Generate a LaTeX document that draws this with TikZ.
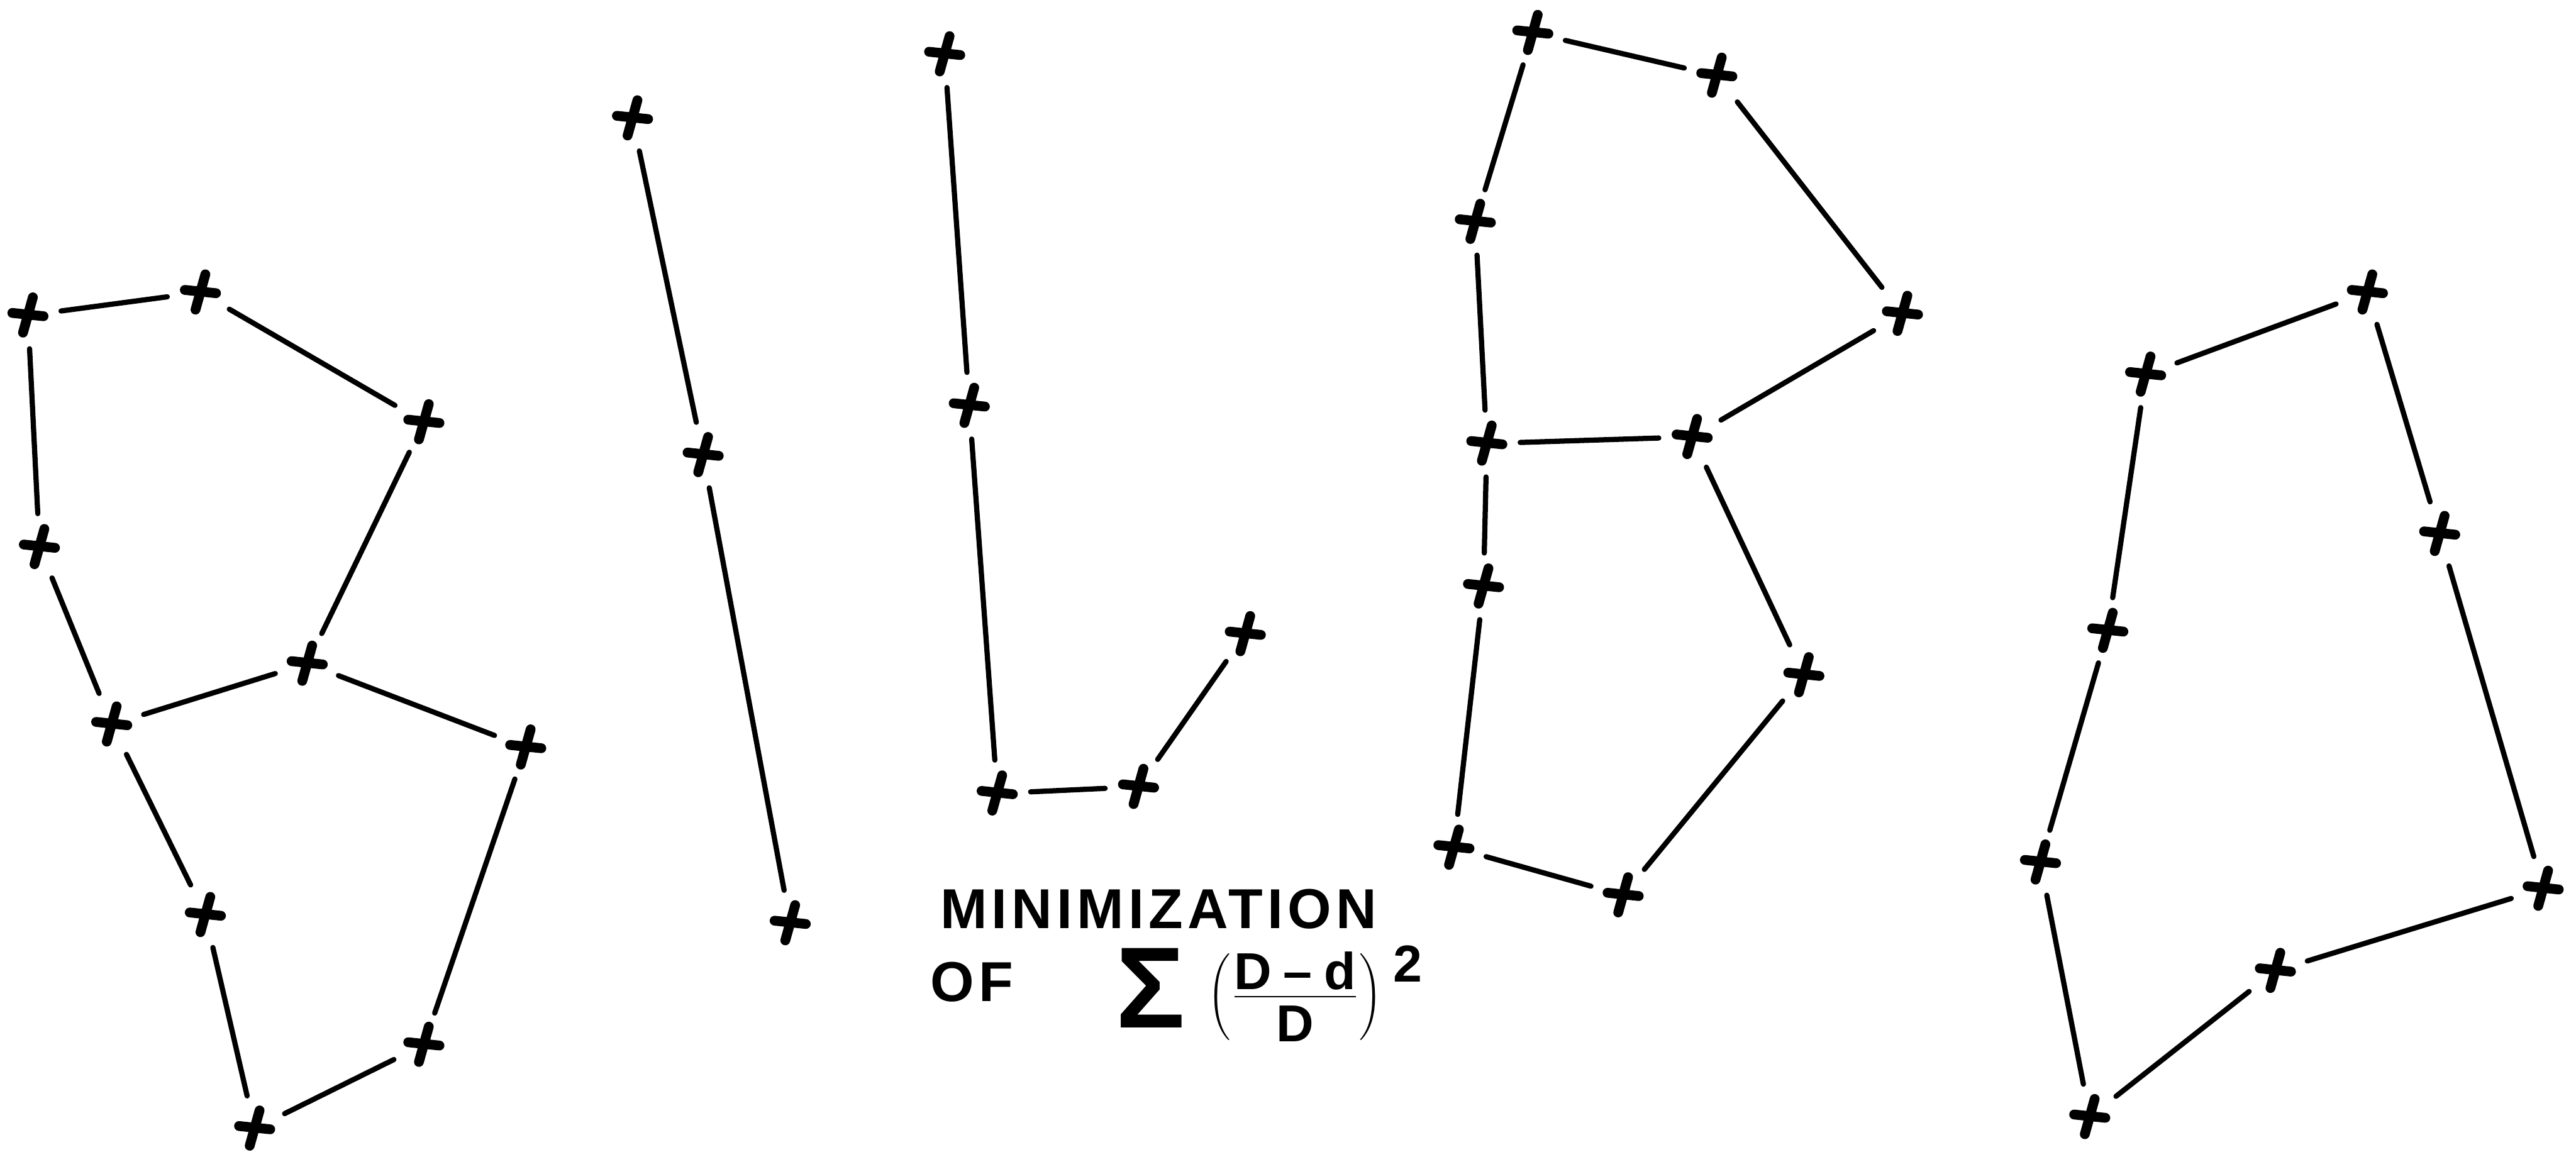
\documentclass[tikz,border=0pt]{standalone}
\usepackage{fontspec}
\setmainfont{Liberation Sans}
\usetikzlibrary{positioning}

\begin{document}
\begin{tikzpicture}[x=0.02cm, y=-0.02cm,
    pt/.style={circle, draw=none, minimum size=0.8cm, inner sep=0pt,
      path picture={\coordinate (c) at (path picture bounding box.center);
        \draw[line width=3.4pt, line cap=round]
          (c) +(-0.19cm,0.03cm) -- +(0.19cm,-0.01cm)
              +(0.06cm,0.22cm) -- +(-0.06cm,-0.21cm);}},
    edge/.style={line width=1.8pt, line cap=round},
    lbl/.style={anchor=west, inner sep=0pt,
      font=\fontsize{19.5}{22}\selectfont\bfseries\addfontfeature{LetterSpace=8}}
  ]
  \useasboundingbox (0,0) rectangle (1568,704);

  % first B
  \node[pt] (b1) at (17,192) {};
  \node[pt] (b2) at (122,178) {};
  \node[pt] (b3) at (258,257) {};
  \node[pt] (b4) at (24,333) {};
  \node[pt] (b5) at (187,404) {};
  \node[pt] (b6) at (68,441) {};
  \node[pt] (b7) at (320,455) {};
  \node[pt] (b8) at (125,557) {};
  \node[pt] (b9) at (258,636) {};
  \node[pt] (b10) at (155,687) {};
  \draw[edge] (b1) -- (b2) (b2) -- (b3) (b3) -- (b5) (b1) -- (b4)
    (b4) -- (b6) (b6) -- (b5) (b5) -- (b7) (b6) -- (b8)
    (b8) -- (b10) (b10) -- (b9) (b9) -- (b7);

  % I
  \node[pt] (i1) at (385,72) {};
  \node[pt] (i2) at (428,277) {};
  \node[pt] (i3) at (481,562) {};
  \draw[edge] (i1) -- (i2) (i2) -- (i3);

  % L
  \node[pt] (l1) at (575,33) {};
  \node[pt] (l2) at (590,247) {};
  \node[pt] (l3) at (607,483) {};
  \node[pt] (l4) at (693,479) {};
  \node[pt] (l5) at (758,386) {};
  \draw[edge] (l1) -- (l2) (l2) -- (l3) (l3) -- (l4) (l4) -- (l5);

  % second B
  \node[pt] (c1) at (933,20) {};
  \node[pt] (c2) at (1045,46) {};
  \node[pt] (c3) at (898,135) {};
  \node[pt] (c4) at (1158,191) {};
  \node[pt] (c5) at (905,270) {};
  \node[pt] (c6) at (1030,266) {};
  \node[pt] (c7) at (903,357) {};
  \node[pt] (c8) at (1098,411) {};
  \node[pt] (c9) at (885,516) {};
  \node[pt] (c10) at (988,545) {};
  \draw[edge] (c1) -- (c2) (c2) -- (c4) (c1) -- (c3) (c3) -- (c5)
    (c5) -- (c6) (c6) -- (c4) (c5) -- (c7) (c6) -- (c8)
    (c7) -- (c9) (c8) -- (c10) (c9) -- (c10);

  % A
  \node[pt] (a1) at (1441,178) {};
  \node[pt] (a2) at (1306,228) {};
  \node[pt] (a3) at (1485,325) {};
  \node[pt] (a4) at (1283,384) {};
  \node[pt] (a5) at (1242,525) {};
  \node[pt] (a6) at (1548,541) {};
  \node[pt] (a7) at (1385,591) {};
  \node[pt] (a8) at (1272,680) {};
  \draw[edge] (a2) -- (a1) (a1) -- (a3) (a3) -- (a6) (a6) -- (a7)
    (a7) -- (a8) (a8) -- (a5) (a5) -- (a4) (a4) -- (a2);

  % caption
  \node[lbl] (mini) at (572,553.5) {MINIMIZATION};
  \node[lbl] (of) at (566,598) {OF};
  \node[inner sep=0pt, font=\fontsize{40}{40}\selectfont\bfseries] (sigma) at (700.5,601.5) {Σ};
  \node[anchor=west, inner sep=0pt, font=\fontsize{18}{20}\selectfont\bfseries] (ratio) at (735,605)
    {$\left(\frac{\mbox{D\kern4pt–\kern4pt d}}{\mbox{\rule{0pt}{15pt}D}}\right)$\kern4pt\raisebox{9.5pt}{2}};
\end{tikzpicture}
\end{document}
